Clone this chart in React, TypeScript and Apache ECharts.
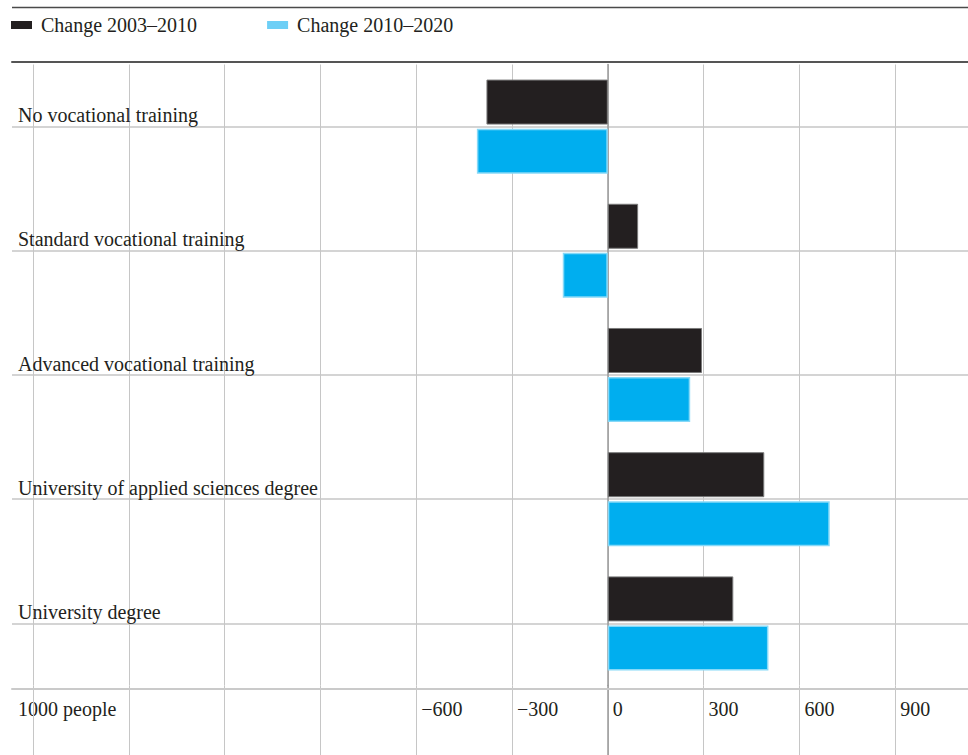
import React, { useEffect, useRef } from "react";
import * as echarts from "echarts";

const categories = [
  "No vocational training",
  "Standard vocational training",
  "Advanced vocational training",
  "University of applied sciences degree",
  "University degree",
];
const change2003_2010 = [-380, 95, 295, 490, 393];
const change2010_2020 = [-410, -141, 258, 695, 503];
const seriesNames = ["Change 2003–2010", "Change 2010–2020"];
const tickValues = [-600, -300, 0, 300, 600, 900];
const tickLabels = ["−600", "−300", "0", "300", "600", "900"];
const unitLabel = "1000 people";

const FONT = "'Liberation Serif', 'Times New Roman', serif";
const TEXT = "#231f20";
const GRIDC = "#c6c6c6";

export default function App() {
  const ref = useRef<HTMLDivElement>(null);
  useEffect(() => {
    if (!ref.current) return;
    const chart = echarts.init(ref.current, undefined, { renderer: "svg" });
    const xFmt = (v: number) => {
      const i = tickValues.indexOf(v);
      return i >= 0 ? tickLabels[i] : "";
    };
    const hidden = {
      axisLine: { show: false },
      axisTick: { show: false },
      axisLabel: { show: false },
      splitLine: { show: false },
    };
    chart.setOption({
      animation: false,
      legend: {
        left: 6,
        top: 10,
        itemWidth: 21,
        itemHeight: 8,
        itemGap: 70,
        icon: "rect",
        textStyle: { fontFamily: FONT, fontSize: 20, color: TEXT, padding: [0, 0, 0, 4] },
        data: [
          { name: seriesNames[0], itemStyle: { color: "#231f20", borderWidth: 0 } },
          { name: seriesNames[1], itemStyle: { color: "#6dcff6", borderWidth: 0 } },
        ],
      },
      grid: [
        // bars
        { left: 33, right: -23, top: 64.5, height: 621, outerBoundsMode: "none" },
        // gridline extension below the plot
        { left: 33, right: -23, top: 685.5, bottom: 0, outerBoundsMode: "none" },
        // row separators and row labels
        { left: 12, right: 0, top: 126.6, height: 496.8, outerBoundsMode: "none" },
        // top and bottom rules
        { left: 12, right: 0, top: 62, height: 626.5, outerBoundsMode: "none" },
      ],
      xAxis: [
        {
          gridIndex: 0,
          type: "value",
          min: -1800,
          max: 1200,
          interval: 300,
          axisLine: { show: false },
          axisTick: { show: false },
          splitLine: { show: true, lineStyle: { color: GRIDC, width: 1 } },
          axisLabel: {
            show: true,
            formatter: xFmt,
            align: "left",
            margin: 13,
            padding: [0, 0, 0, 5],
            fontFamily: FONT,
            fontSize: 20,
            color: TEXT,
          },
        },
        {
          gridIndex: 1,
          type: "value",
          min: -1800,
          max: 1200,
          interval: 300,
          axisLine: { show: false },
          axisTick: { show: false },
          axisLabel: { show: false },
          splitLine: { show: true, lineStyle: { color: GRIDC, width: 1 } },
        },
        { gridIndex: 2, type: "value", min: 0, max: 1, ...hidden },
        {
          gridIndex: 3,
          type: "value",
          min: 0,
          max: 1,
          position: "top",
          axisLine: { show: true, onZero: false, lineStyle: { color: "#555555", width: 2 } },
          axisTick: { show: false },
          axisLabel: { show: false },
          splitLine: { show: false },
        },
        {
          gridIndex: 3,
          type: "value",
          min: 0,
          max: 1,
          position: "bottom",
          axisLine: { show: true, onZero: false, lineStyle: { color: "#cacaca", width: 2 } },
          axisTick: { show: false },
          axisLabel: { show: false },
          splitLine: { show: false },
        },
      ],
      yAxis: [
        {
          gridIndex: 0,
          type: "category",
          inverse: true,
          data: categories,
          axisLine: { show: true, onZero: true, lineStyle: { color: "#9a9a9a", width: 1.5 } },
          axisTick: { show: false },
          axisLabel: { show: false },
          splitLine: { show: false },
        },
        {
          gridIndex: 1,
          type: "category",
          data: [""],
          axisLine: { show: true, onZero: true, lineStyle: { color: "#9a9a9a", width: 1.5 } },
          axisTick: { show: false },
          axisLabel: { show: false },
          splitLine: { show: false },
        },
        {
          gridIndex: 2,
          type: "category",
          inverse: true,
          boundaryGap: false,
          data: categories,
          axisLine: { show: false },
          axisTick: { show: false },
          splitLine: { show: true, interval: 0, lineStyle: { color: GRIDC, width: 1.5 } },
          axisLabel: {
            show: true,
            inside: true,
            interval: 0,
            margin: 6,
            verticalAlign: "bottom",
            lineHeight: 23,
            fontFamily: FONT,
            fontSize: 20,
            color: TEXT,
          },
        },
        { gridIndex: 3, type: "value", min: 0, max: 1, ...hidden },
      ],
      graphic: [
        {
          type: "line",
          shape: { x1: 12, y1: 7.5, x2: 968, y2: 7.5 },
          style: { stroke: "#4a4a4a", lineWidth: 1.3 },
        },
        {
          type: "text",
          left: 18,
          top: 699,
          style: { text: unitLabel, font: `20px ${FONT}`, fill: TEXT },
        },
      ],
      series: [
        {
          name: seriesNames[0],
          type: "bar",
          xAxisIndex: 0,
          yAxisIndex: 0,
          data: change2003_2010,
          barWidth: 45,
          barGap: "9%",
          itemStyle: { color: "#231f20", borderColor: "#7a7a7a", borderWidth: 1 },
          z: 3,
        },
        {
          name: seriesNames[1],
          type: "bar",
          xAxisIndex: 0,
          yAxisIndex: 0,
          data: change2010_2020,
          barWidth: 45,
          barGap: "9%",
          itemStyle: { color: "#00aeef", borderColor: "#86d9f8", borderWidth: 1.5 },
          z: 3,
        },
        { type: "scatter", xAxisIndex: 1, yAxisIndex: 1, data: [], silent: true },
        { type: "scatter", xAxisIndex: 2, yAxisIndex: 2, data: [], silent: true },
        { type: "scatter", xAxisIndex: 3, yAxisIndex: 3, data: [], silent: true },
      ],
    });
    return () => chart.dispose();
  }, []);
  return (
    <div
      ref={ref}
      style={{ position: "fixed", left: 0, top: 0, width: 968, height: 755, background: "#fff" }}
    />
  );
}
